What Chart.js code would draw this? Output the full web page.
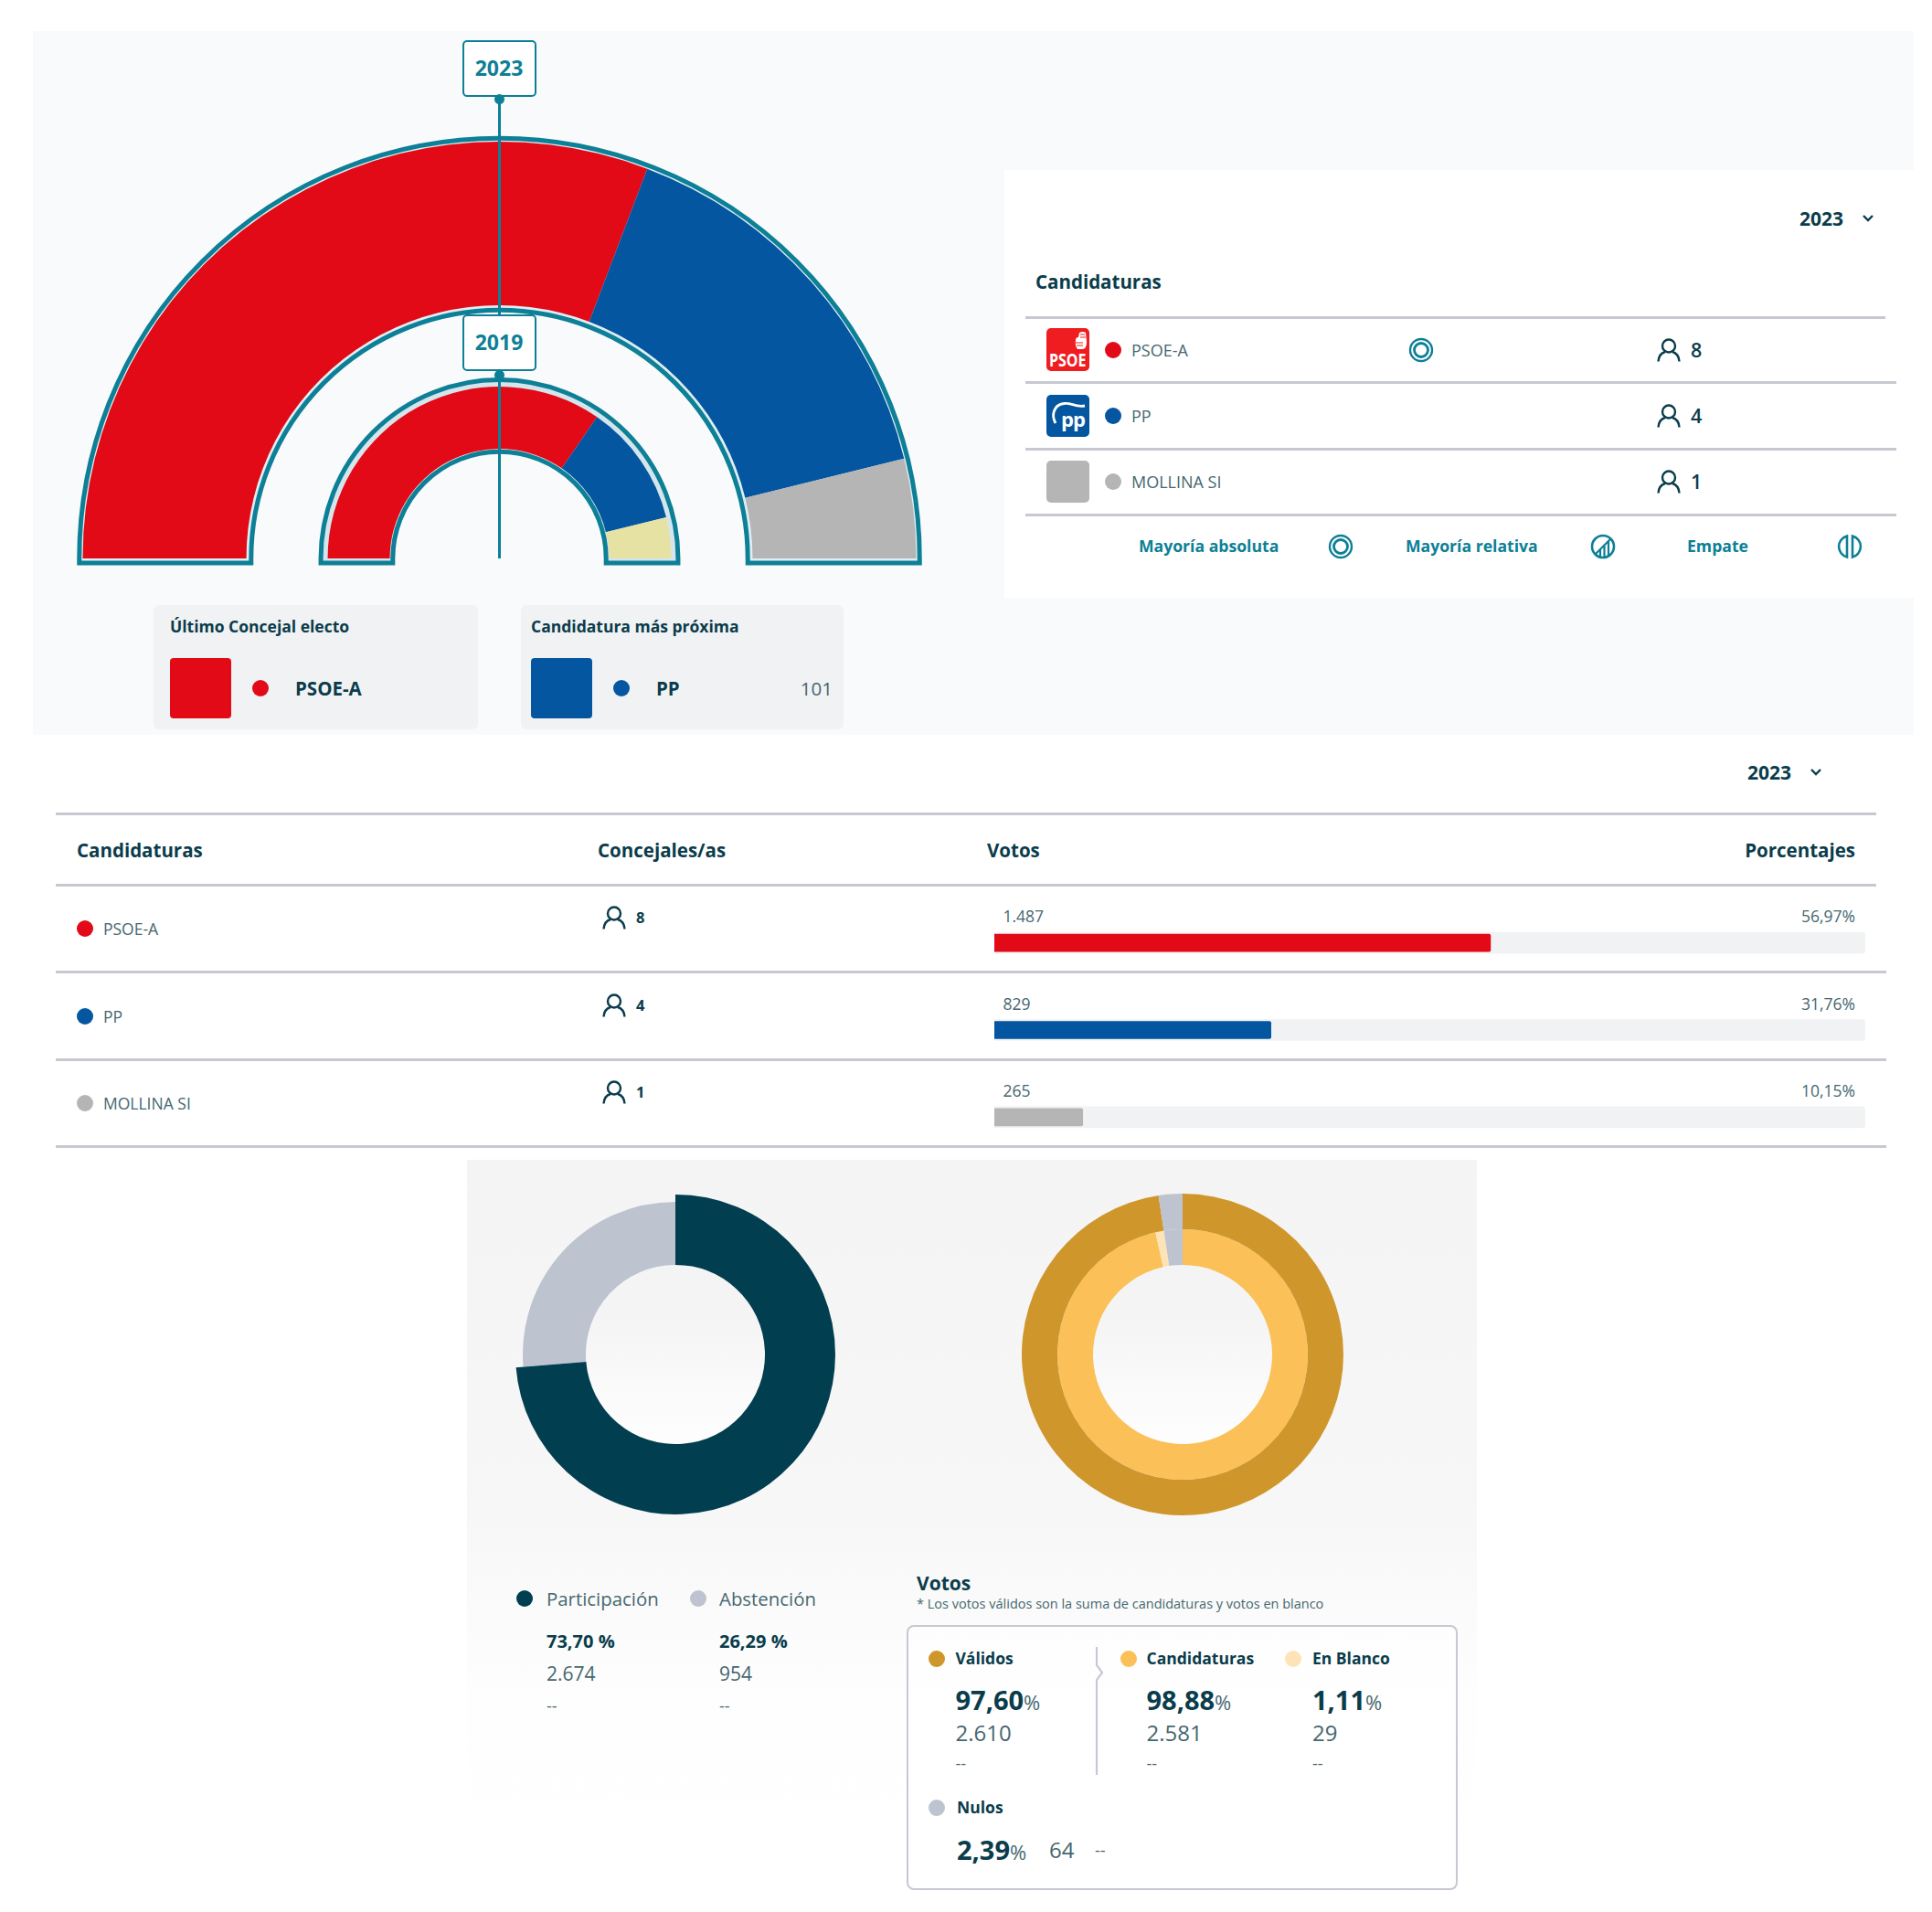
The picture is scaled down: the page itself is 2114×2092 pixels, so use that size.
<!DOCTYPE html>
<html lang="es">
<head>
<meta charset="utf-8">
<title>Elecciones municipales Mollina</title>
<script src="https://cdn.jsdelivr.net/npm/chart.js@4"></script>
<style>
html, body { margin: 0; padding: 0; background: #fff; }
body { position: relative; width: 2114px; height: 2092px; overflow: hidden; font-family: "Open Sans", sans-serif; color: #0a3c4b; }
.abs { position: absolute; }
.txt { position: absolute; white-space: nowrap; line-height: 1; transform: translateY(-50%); }
canvas { position: absolute; }
svg { display: block; }
</style>
</head>
<body>
<script>
// candidaturas
var partyNames = ["PSOE-A", "PP", "MOLLINA SI"];
var partyColors = ["#e20a16", "#0556a0", "#b5b5b5"];
var seats2023 = [8, 4, 1];
var votes2023 = ["1.487", "829", "265"];
var percents2023 = [56.97, 31.76, 10.15];
var percentLabels = ["56,97%", "31,76%", "10,15%"];

// 2019
var seats2019 = [9, 3, 1];
var colors2019 = ["#e20a16", "#0556a0", "#e6e2a4"];

// participacion
var turnoutNames = ["Participación", "Abstención"];
var turnoutValues = [73.70, 26.29];
var turnoutColors = ["#013f50", "#bdc4cf"];
var turnoutPercents = ["73,70 %", "26,29 %"];
var turnoutVotes = ["2.674", "954"];

// votos
var outerVotes = [2610, 64];
var outerColors = ["#cf962c", "#bdc4cf"];
var innerVotes = [2581, 29, 64];
var innerColors = ["#fbc057", "#fde3b5", "#bdc4cf"];

var TEAL = "#0d7f96";
var DARK = "#0a3c4b";
var SOFT = "#46676f";
var LINE = "#c6c9d1";

Chart.defaults.animation = false;
Chart.defaults.responsive = false;
Chart.defaults.devicePixelRatio = 1;
Chart.defaults.plugins.legend.display = false;
Chart.defaults.plugins.tooltip.enabled = false;

function box(x, y, w, h, css) {
    var d = document.createElement("div");
    d.className = "abs";
    d.style.cssText = "left:" + x + "px;top:" + y + "px;width:" + w + "px;height:" + h + "px;" + (css || "");
    document.body.appendChild(d);
    return d;
}
function text(x, y, str, size, weight, color, right) {
    var d = document.createElement("div");
    d.className = "txt";
    d.style.top = y + "px";
    if (right) d.style.right = (2114 - x) + "px"; else d.style.left = x + "px";
    d.style.fontSize = size + "px";
    d.style.fontWeight = weight;
    d.style.color = color;
    d.innerHTML = str;
    document.body.appendChild(d);
    return d;
}
function dot(x, y, color, size) {
    var s = size || 18;
    box(x - s / 2, y - s / 2, s, s, "border-radius:50%;background:" + color);
}
function line(x1, x2, y, h) {
    box(x1, y - 1, x2 - x1, h || 2.5, "background:" + LINE);
}
function svg(x, y, w, h, inner) {
    var d = box(x - w / 2, y - h / 2, w, h);
    d.innerHTML = '<svg xmlns="http://www.w3.org/2000/svg" width="' + w + '" height="' + h + '" viewBox="0 0 ' + w + ' ' + h + '">' + inner + '</svg>';
    return d;
}
function person(x, y) {
    svg(x, y, 26, 26, '<circle cx="13" cy="8.5" r="7" fill="none" stroke="' + DARK + '" stroke-width="2.4"/>' +
        '<path d="M1.5 25.5c.5-6.500 4-9.500 7.500-10.500M24.500 25.500c-.5-6.500-4-9.500-7.500-10.500" fill="none" stroke="' + DARK + '" stroke-width="2.4"/>');
}
function chevron(x, y) {
    svg(x, y, 14, 10, '<path d="M2 2l5 5 5-5" fill="none" stroke="' + DARK + '" stroke-width="2.4"/>');
}
function ringIcon(x, y) {
    svg(x, y, 28, 28, '<circle cx="14" cy="14" r="12" fill="none" stroke="' + TEAL + '" stroke-width="2.4"/><circle cx="14" cy="14" r="7.500" fill="none" stroke="' + TEAL + '" stroke-width="2.800"/>');
}

// panel superior
box(36, 34, 2058, 770, "background:#f9fafb");
box(1099, 186, 995, 468, "background:#fff");

var hemi = document.createElement("canvas");
hemi.width = 933;
hemi.height = 476;
hemi.style.left = "79.5px";
hemi.style.top = "145px";
document.body.appendChild(hemi);

function outlinePath(ctx, x, y, R, r, g) {
    ctx.beginPath();
    ctx.moveTo(x - R, y + g);
    ctx.lineTo(x - R, y);
    ctx.arc(x, y, R, Math.PI, 0);
    ctx.lineTo(x + R, y + g);
    ctx.lineTo(x + r, y + g);
    ctx.lineTo(x + r, y);
    ctx.arc(x, y, r, 0, Math.PI, true);
    ctx.lineTo(x - r, y + g);
    ctx.closePath();
}
var ringOutline = {
    id: "ringOutline",
    beforeDatasetsDraw: function (chart) {
        var ctx = chart.ctx;
        // dataset, hueco exterior, hueco interior, color del hueco
        [[0, 3.75, 5.25, "#dfeef3"], [2, 7.5, 3.25, "#d5e5ec"]].forEach(function (o) {
            var arc = chart.getDatasetMeta(o[0]).data[0];
            ctx.save();
            outlinePath(ctx, arc.x, arc.y, arc.outerRadius + o[1], arc.innerRadius - o[2], 5);
            ctx.fillStyle = o[3];
            ctx.fill();
            ctx.strokeStyle = TEAL;
            ctx.lineWidth = 5;
            ctx.stroke();
            ctx.restore();
        });
    }
};
new Chart(hemi, {
    type: "doughnut",
    plugins: [ringOutline],
    data: {
        labels: partyNames,
        datasets: [
            { data: seats2023, backgroundColor: partyColors, borderWidth: 0, weight: 179 },
            { data: [1], backgroundColor: "rgba(0,0,0,0)", borderWidth: 0, weight: 89 },
            { data: seats2019, backgroundColor: colors2019, borderWidth: 0, weight: 68 }
        ]
    },
    options: {
        rotation: -90,
        circumference: 180,
        cutout: "26.3%",
        layout: { padding: 10 }
    }
});

box(544.5, 108, 3.5, 503, "background:" + TEAL);
[["2023", 44, 108.5], ["2019", 344, 410.5]].forEach(function (b) {
    box(506, b[1], 81, 62, "box-sizing:border-box;background:#fff;border:2.5px solid " + TEAL + ";border-radius:5px");
    text(546, b[1] + 30, b[0], 23, 700, TEAL).style.cssText += "width:0;display:flex;justify-content:center;";
    dot(546, b[2], TEAL, 11);
});

// ultimo concejal y candidatura proxima
box(168, 662, 355, 136, "background:#f1f2f4;border-radius:6px");
text(186, 686, "Último Concejal electo", 17.5, 700, DARK);
box(186, 720, 67, 66, "background:" + partyColors[0] + ";border-radius:4px");
dot(285, 753, partyColors[0]);
text(323, 753, partyNames[0], 20.5, 700, DARK);

box(570, 662, 353, 136, "background:#f1f2f4;border-radius:6px");
text(581, 686, "Candidatura más próxima", 17.5, 700, DARK);
box(581, 720, 67, 66, "background:" + partyColors[1] + ";border-radius:4px");
dot(679.5, 753, partyColors[1]);
text(718, 753, partyNames[1], 20.5, 700, DARK);
text(911, 753, "101", 20.5, 400, SOFT, true);

// tarjeta de candidaturas
text(1969, 239, "2023", 21, 700, DARK);
chevron(2044, 239);
text(1133, 308, "Candidaturas", 20.5, 700, DARK);
line(1122, 2063, 347);
[418, 491, 563].forEach(function (y) { line(1122, 2075, y); });

var logoTops = [359, 432, 504];
box(1145, logoTops[0], 47, 47, "background:#ef1c20;border-radius:5px");
var psoeLabel = text(1148, logoTops[0] + 35, "PSOE", 19, 700, "#fff");
psoeLabel.style.transformOrigin = "left center";
psoeLabel.style.transform = "translateY(-50%) scaleX(.84)";
svg(1182, logoTops[0] + 14, 16, 22, '<path d="M3 10 Q3 7 6 7 L7 2 Q11 0 14 2 L15 12 Q15 19 11 20 L5 20 Q2 16 3 10z" fill="#fff"/><path d="M3 13h8M4 16h7M8 4h5M8 7h6" stroke="#ef1c20" stroke-width="1.2" fill="none"/>');
box(1145, logoTops[1], 47, 46, "background:#0556a0;border-radius:5px");
text(1161, logoTops[1] + 26, "pp", 22, 700, "#fff").style.letterSpacing = "-1px";
svg(1168.5, logoTops[1] + 23, 47, 46, '<path d="M10 31C5 22 8 11 19 9.500C27 8 31 14 42 12" fill="none" stroke="#fff" stroke-width="2.800"/>');
box(1145, logoTops[2], 47, 46, "background:#b5b5b5;border-radius:5px");

var cardRows = [383, 455, 527];
partyNames.forEach(function (name, i) {
    dot(1218, cardRows[i], partyColors[i]);
    text(1238, cardRows[i], name, 18, 400, SOFT);
    person(1826, cardRows[i]);
    text(1850, cardRows[i], seats2023[i], 21.5, 600, DARK);
});
ringIcon(1555, cardRows[0]);

text(1246, 597.5, "Mayoría absoluta", 17.6, 700, TEAL);
ringIcon(1467, 598);
text(1538, 597.5, "Mayoría relativa", 17.6, 700, TEAL);
svg(1754, 598, 28, 28, '<circle cx="14" cy="14" r="12" fill="none" stroke="' + TEAL + '" stroke-width="2.6"/><path d="M5.500 22.500L22.500 5.500M11 25V17M15.500 26V12.500M20 24V8" stroke="' + TEAL + '" stroke-width="2.200" fill="none"/>');
text(1846, 597.5, "Empate", 17.6, 700, TEAL);
svg(2024, 598, 28, 28, '<path d="M11 2.400A12 12 0 0 0 11 25.600zM17 2.400A12 12 0 0 1 17 25.600z" fill="none" stroke="' + TEAL + '" stroke-width="2.6"/>');

// tabla
text(1912, 844.5, "2023", 21, 700, DARK);
chevron(1987, 844.5);
line(61, 2053, 890);
line(61, 2053, 968);
text(84, 929.5, "Candidaturas", 20.5, 700, DARK);
text(654, 929.5, "Concejales/as", 20.5, 700, DARK);
text(1080, 929.5, "Votos", 20.5, 700, DARK);
text(2030, 929.5, "Porcentajes", 20.5, 700, DARK, true);

[1063, 1159, 1254].forEach(function (y) { line(61, 2064, y); });
var dotRows = [1016, 1112, 1207];
var seatRows = [1004, 1100, 1195];
var voteRows = [1003, 1099, 1194];
partyNames.forEach(function (name, i) {
    dot(92.5, dotRows[i], partyColors[i]);
    text(113, dotRows[i] + 1, name, 17.5, 400, SOFT);
    person(672, seatRows[i]);
    text(696, seatRows[i], seats2023[i], 16.5, 700, DARK);
    text(1097.5, voteRows[i], votes2023[i], 17.5, 400, SOFT);
    text(2030, voteRows[i], percentLabels[i], 17.5, 400, SOFT, true);
});

var bars = document.createElement("canvas");
bars.width = 953;
bars.height = 286;
bars.style.left = "1088px";
bars.style.top = "984px";
document.body.appendChild(bars);
new Chart(bars, {
    type: "bar",
    data: {
        labels: partyNames,
        datasets: [
            { data: percents2023, backgroundColor: partyColors, barThickness: 19, grouped: false, borderRadius: 2 },
            { data: [100, 100, 100], backgroundColor: "#f1f2f4", barThickness: 23, grouped: false, borderRadius: 4 }
        ]
    },
    options: {
        indexAxis: "y",
        scales: {
            x: { display: false, min: 0, max: 100 },
            y: { display: false }
        }
    }
});

// panel inferior
box(511, 1269, 1105, 823, "background:linear-gradient(#f4f4f4 0%,#f7f7f7 47%,#fefefe 72%,#fff 100%)");
box(641, 1384, 196, 196, "border-radius:50%;background:linear-gradient(#f4f4f4 25%,#fefefe 100%)");
box(1195.5, 1384, 196, 196, "border-radius:50%;background:linear-gradient(#f4f4f4 25%,#fefefe 100%)");

function donut(left, top, size, datasets, cut) {
    var c = document.createElement("canvas");
    c.width = size;
    c.height = size;
    c.style.left = left + "px";
    c.style.top = top + "px";
    document.body.appendChild(c);
    new Chart(c, {
        type: "doughnut",
        data: { datasets: datasets },
        options: { cutout: cut }
    });
}
// la participacion sobresale de la abstencion: dos capas con radio distinto
donut(572, 1315, 334, [
    { data: turnoutValues, backgroundColor: ["rgba(0,0,0,0)", turnoutColors[1]], borderWidth: 0 }
], "58.7%");
donut(564, 1307, 350, [
    { data: turnoutValues, backgroundColor: [turnoutColors[0], "rgba(0,0,0,0)"], borderWidth: 0 }
], "56%");
donut(1117.5, 1306, 352, [
    { data: outerVotes, backgroundColor: outerColors, borderWidth: 0, weight: 39 },
    { data: innerVotes, backgroundColor: innerColors, borderWidth: 0, weight: 39 }
], "55.7%");

var turnoutX = [598, 787];
var turnoutDots = [574, 764];
turnoutNames.forEach(function (name, i) {
    dot(turnoutDots[i], 1749, turnoutColors[i]);
    text(turnoutX[i], 1749, name, 20.4, 400, SOFT);
    text(turnoutX[i], 1796, turnoutPercents[i], 20, 700, DARK);
    text(turnoutX[i], 1831, turnoutVotes[i], 21, 400, SOFT);
    text(turnoutX[i], 1866, "--", 18, 400, SOFT);
});

text(1003, 1732, "Votos", 21, 700, DARK);
text(1003, 1755, "* Los votos válidos son la suma de candidaturas y votos en blanco", 14.5, 400, SOFT);
box(992, 1778, 603, 289.5, "box-sizing:border-box;border:2.5px solid " + LINE + ";border-radius:8px;background:rgba(255,255,255,.6)");
svg(1204, 1872, 12, 142, '<path d="M2 1V21L8 29L2 37V141" fill="none" stroke="' + LINE + '" stroke-width="2.2"/>');

var pctMark = '<span style="font-size:22px;font-weight:400;color:' + SOFT + '">%</span>';
function voteBlock(dx, tx, name, color, pct, count) {
    dot(dx, 1815, color);
    text(tx, 1815, name, 17.5, 700, DARK);
    text(tx, 1859, pct + pctMark, 29, 700, DARK);
    text(tx, 1896, count, 24, 400, SOFT);
    text(tx, 1929, "--", 18, 400, SOFT);
}
voteBlock(1025, 1045.5, "Válidos", outerColors[0], "97,60", "2.610");
voteBlock(1234.5, 1254.5, "Candidaturas", innerColors[0], "98,88", "2.581");
voteBlock(1415, 1436, "En Blanco", innerColors[1], "1,11", "29");

dot(1025, 1978, outerColors[1]);
text(1047, 1978, "Nulos", 17.5, 700, DARK);
text(1047, 2023, "2,39" + pctMark, 29, 700, DARK);
text(1148, 2023.5, "64", 24, 400, SOFT);
text(1198, 2023.5, "--", 18, 400, SOFT);
</script>
</body>
</html>
